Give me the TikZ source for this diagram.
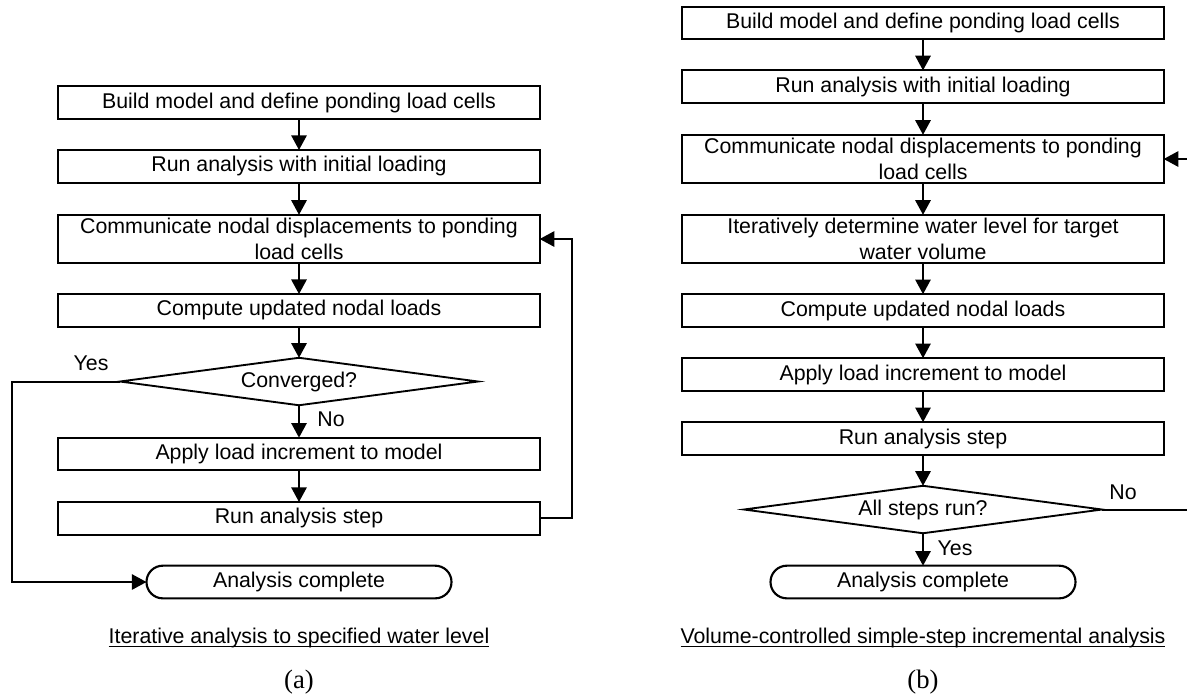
\documentclass[tikz,border=0pt]{standalone}
\usepackage{fontspec}
\setmainfont{Liberation Sans}
\newfontfamily\capserif{Liberation Serif}
\usetikzlibrary{arrows.meta,shapes.geometric}

\newsavebox{\capbox}
\newcommand{\capline}[1]{\sbox{\capbox}{#1}\rlap{\rule[-3.2pt]{\wd\capbox}{1pt}}\usebox{\capbox}}

\tikzset{every picture/.style={line width=0.75pt}}
\tikzset{
  process/.style={draw, line width=1.6pt, rectangle, minimum width=361pt, minimum height=24.5pt,
    inner sep=0pt, outer sep=0pt, align=center, font=\fontsize{16}{19.2}\selectfont},
  tallprocess/.style={process, minimum height=36.3pt},
  decision/.style={draw, line width=1.4pt, diamond, aspect=7.5, minimum width=268.5pt, minimum height=35.6pt,
    inner sep=0pt, outer sep=0pt, font=\fontsize{16}{19.2}\selectfont},
  terminal/.style={draw, line width=1.6pt, rectangle, rounded corners=12.2pt, minimum width=228.75pt,
    minimum height=24.5pt, inner sep=0pt, outer sep=0pt, font=\fontsize{16}{19.2}\selectfont},
  flow/.style={line width=1.5pt, -{Triangle[length=11pt,width=11.5pt]}},
  branch/.style={font=\fontsize{16}{19.2}\selectfont, inner sep=0pt},
  caption/.style={font=\fontsize{16}{19.2}\selectfont, inner sep=0pt, anchor=base},
  panel/.style={font=\fontsize{20}{24}\capserif, inner sep=0pt, anchor=base}
}

\begin{document}
\begin{tikzpicture}[x=0.75pt,y=0.75pt,yscale=-1,xscale=1]
\path [use as bounding box, clip] (0,0) rectangle (1187,694);

%Flowchart (a)
% Text Node
\node [process] (buildA) at (299,102.5) {Build model and define ponding load cells};
% Text Node
\node [process] (initA) at (299,166.3) {Run analysis with initial loading};
% Text Node
\node [tallprocess] (commA) at (299,239) {Communicate nodal displacements to ponding\\load cells};
% Text Node
\node [process] (loadsA) at (299,310.4) {Compute updated nodal loads};
%Shape: Diamond
\node [decision] (convA) at (299,381.5) {Converged?};
% Text Node
\node [process] (applyA) at (299,454) {Apply load increment to model};
% Text Node
\node [process] (stepA) at (299,518.3) {Run analysis step};
%Shape: Rounded Rect
\node [terminal] (doneA) at (299,582) {Analysis complete};
% Text Node
\node [branch] (yesA) at (91,363) {Yes};
% Text Node
\node [branch] (noA) at (331,419) {No};
% Text Node
\node [caption] (capA) at (299,643) {\capline{Iterative analysis to specified water level}};
% Text Node
\node [panel] (tagA) at (299,688) {(a)};

\coordinate (leftA) at (11.7,0);
\coordinate (rightA) at (571.5,0);

%Straight Lines
\draw [flow] (buildA) -- (initA);
\draw [flow] (initA) -- (commA);
\draw [flow] (commA) -- (loadsA);
\draw [flow] (loadsA) -- (convA);
\draw [flow] (convA) -- (applyA);
\draw [flow] (applyA) -- (stepA);
%Elbow Lines
\draw [flow] (convA.west) -- (leftA |- convA.west) -- (leftA |- doneA.west) -- (doneA.west);
\draw [flow] (stepA.east) -- (rightA |- stepA.east) -- (rightA |- commA.east) -- (commA.east);

%Flowchart (b)
% Text Node
\node [process] (buildB) at (923,23) {Build model and define ponding load cells};
% Text Node
\node [process] (initB) at (923,86.7) {Run analysis with initial loading};
% Text Node
\node [tallprocess] (commB) at (923,159) {Communicate nodal displacements to ponding\\load cells};
% Text Node
\node [tallprocess] (levelB) at (923,239) {Iteratively determine water level for target\\water volume};
% Text Node
\node [process] (loadsB) at (923,310.5) {Compute updated nodal loads};
% Text Node
\node [process] (applyB) at (923,374.5) {Apply load increment to model};
% Text Node
\node [process] (stepB) at (923,438.5) {Run analysis step};
%Shape: Diamond
\node [decision] (allB) at (923,509.5) {All steps run?};
%Shape: Rounded Rect
\node [terminal] (doneB) at (923,582) {Analysis complete};
% Text Node
\node [branch] (noB) at (1123,492) {No};
% Text Node
\node [branch] (yesB) at (955,548) {Yes};
% Text Node
\node [caption] (capB) at (923,643) {\capline{Volume-controlled simple-step incremental analysis}};
% Text Node
\node [panel] (tagB) at (923,688) {(b)};

\coordinate (rightB) at (1193,0);

%Straight Lines
\draw [flow] (buildB) -- (initB);
\draw [flow] (initB) -- (commB);
\draw [flow] (commB) -- (levelB);
\draw [flow] (levelB) -- (loadsB);
\draw [flow] (loadsB) -- (applyB);
\draw [flow] (applyB) -- (stepB);
\draw [flow] (stepB) -- (allB);
\draw [flow] (allB) -- (doneB);
%Elbow Lines
\draw [flow] (allB.east) -- (rightB |- allB.east) -- (rightB |- commB.east) -- (commB.east);
\end{tikzpicture}
\end{document}
